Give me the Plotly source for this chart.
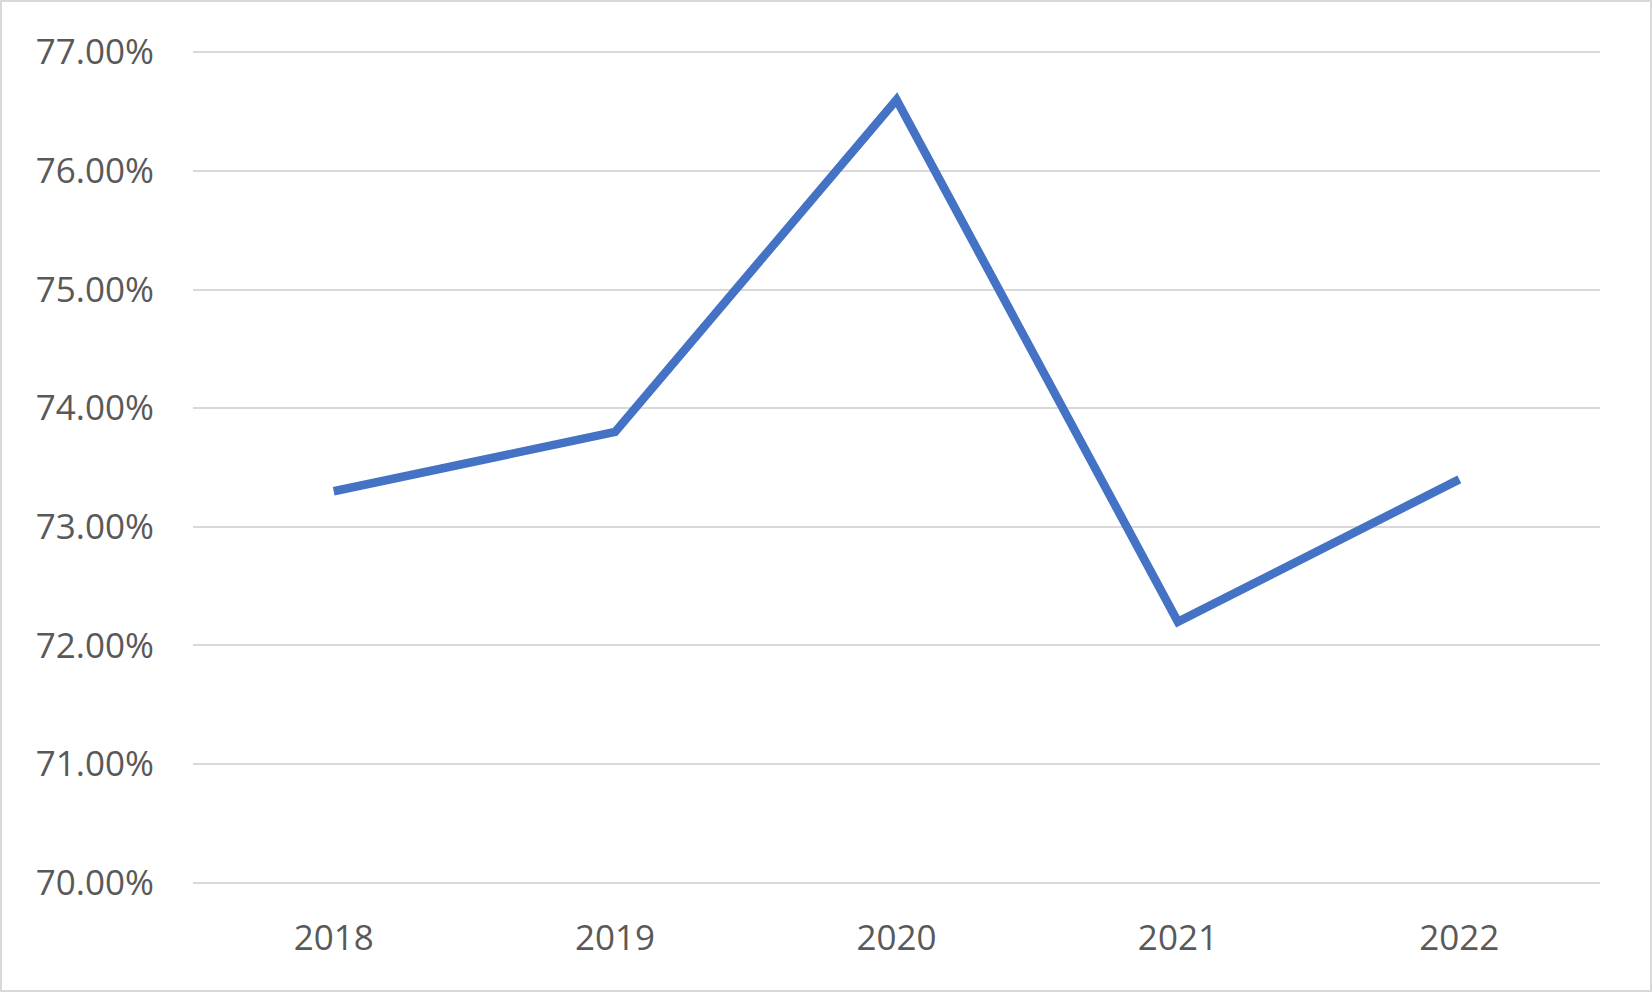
import plotly.graph_objects as go

years = ["2018", "2019", "2020", "2021", "2022"]
rates = [0.733, 0.738, 0.766, 0.722, 0.734]
y_ticks = [0.70, 0.71, 0.72, 0.73, 0.74, 0.75, 0.76, 0.77]

W, H = 1652, 992
L, R, T, B = 193, 52, 51, 108
pw, ph = W - L - R, H - T - B

fig = go.Figure()
fig.add_trace(go.Scatter(
    x=years, y=rates, mode="lines",
    line=dict(color="#4472C4", width=8.5),
    hoverinfo="skip", showlegend=False,
))

font = dict(family="Open Sans, Liberation Sans, sans-serif", size=35, color="#595959")

fig.update_layout(
    width=W, height=H,
    margin=dict(l=L, r=R, t=T, b=B, pad=0),
    paper_bgcolor="white", plot_bgcolor="white",
    font=font,
    xaxis=dict(
        type="category", range=[-0.5, len(years) - 0.5],
        showgrid=False, zeroline=False, showline=False,
        ticks="", ticklabelstandoff=30, tickfont=font,
    ),
    yaxis=dict(
        range=[0.6999, 0.7701], tickvals=y_ticks, tickformat=".2%",
        showgrid=True, gridcolor="#d9d9d9", gridwidth=2,
        zeroline=False, showline=False, ticks="",
        ticklabelstandoff=38, tickfont=font,
    ),
    shapes=[dict(
        type="rect", xref="paper", yref="paper",
        x0=-(L - 1) / pw, x1=1 + (R - 1) / pw,
        y0=-(B - 1) / ph, y1=1 + (T - 1) / ph,
        line=dict(color="#d9d9d9", width=2), fillcolor="rgba(0,0,0,0)", layer="below",
    )],
)

fig.write_html(
    "out.html",
    config={"displayModeBar": False, "staticPlot": True},
    post_script="document.body.style.margin='0';document.body.style.overflow='hidden';",
)
